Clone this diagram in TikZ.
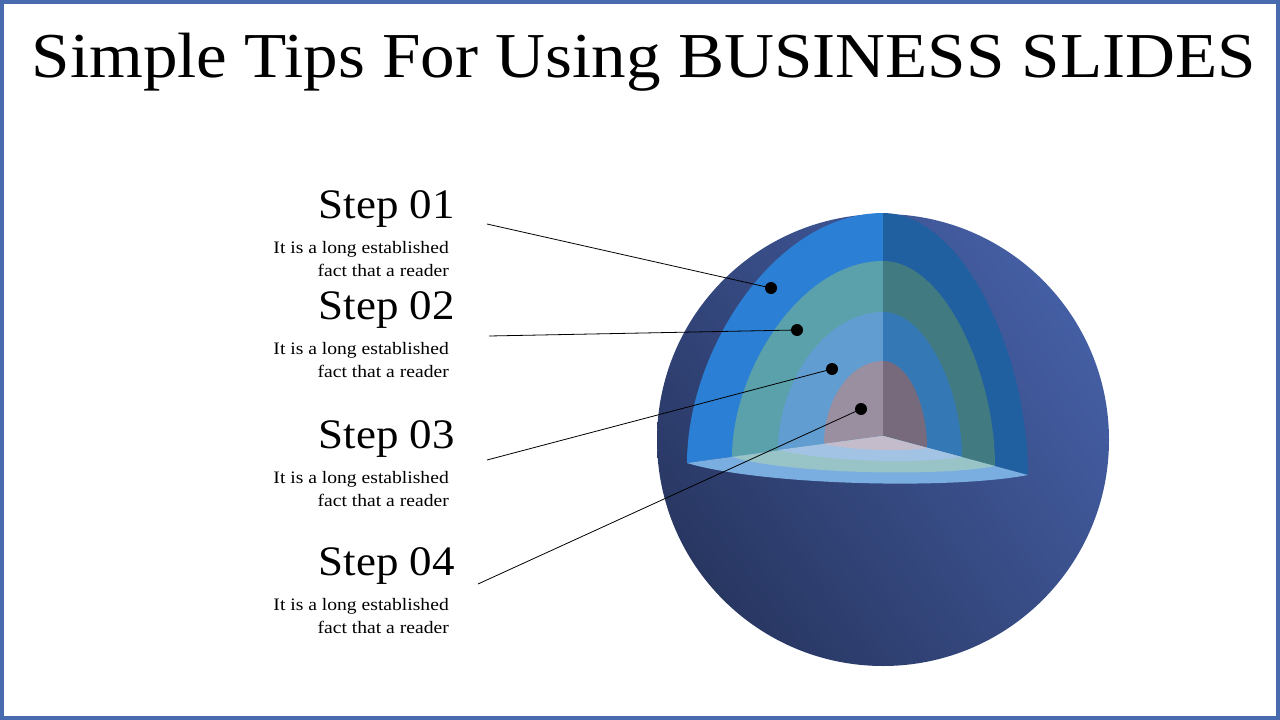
\documentclass[tikz,border=0pt]{standalone}
\usepackage{fontspec}
\setmainfont{Liberation Serif}
\usetikzlibrary{shadings}
\begin{document}
\begin{tikzpicture}[x=1pt,y=-1pt,
  steptxt/.style={anchor=east,font=\fontsize{42}{46}\selectfont,inner sep=0,xscale=1.07},
  subtxt/.style={anchor=east,align=right,font=\fontsize{17.5}{23}\selectfont,inner sep=0,xscale=1.12},
  dot/.style={circle,fill=black,inner sep=0,minimum size=12pt},
  lead/.style={draw=black,line width=0.8pt}]
\useasboundingbox (0,0) rectangle (1280,720);
\draw[color={rgb,255:red,74;green,106;blue,175},line width=4pt] (2,2) rectangle (1278,718);
\node[font=\fontsize{64}{70}\selectfont,inner sep=0,xscale=1.08] (title) at (644,62) {Simple Tips For Using BUSINESS SLIDES};
% sphere
\definecolor{sphlight}{RGB}{74,102,176}
\definecolor{sphdark}{RGB}{34,46,84}
\shade[upper right=sphlight,upper left=sphdark!55!sphlight,lower left=sphdark,lower right=sphdark!40!sphlight] (883,440) circle (226);
% left faces
\fill[color={rgb,255:red,43;green,127;blue,212}] (883,436) -- (883,213) .. controls (775,213) and (687,351) .. (687,463) -- cycle;
\fill[color={rgb,255:red,91;green,161;blue,171}] (883,436) -- (883,261) .. controls (800,261) and (732,372) .. (732,457) -- cycle;
\fill[color={rgb,255:red,97;green,157;blue,208}] (883,436) -- (883,312) .. controls (826,312) and (778,381) .. (778,450) -- cycle;
\fill[color={rgb,255:red,154;green,143;blue,160}] (883,436) -- (883,361) .. controls (851,361) and (824,399) .. (824,444) -- cycle;
% right faces
\fill[color={rgb,255:red,32;green,96;blue,160}] (883,436) -- (883,213) .. controls (963,213) and (1028,355) .. (1028,475) -- cycle;
\fill[color={rgb,255:red,66;green,122;blue,130}] (883,436) -- (883,261) .. controls (945,261) and (995,375) .. (995,466) -- cycle;
\fill[color={rgb,255:red,52;green,120;blue,182}] (883,436) -- (883,312) .. controls (927,312) and (962,392) .. (962,457) -- cycle;
\fill[color={rgb,255:red,119;green,106;blue,124}] (883,436) -- (883,361) .. controls (907,361) and (927,403) .. (927,448) -- cycle;
% bottom face
\fill[color={rgb,255:red,122;green,174;blue,224}] (883,436) -- (687,463) .. controls (760,485) and (950,490) .. (1028,475) -- cycle;
\fill[color={rgb,255:red,152;green,196;blue,200}] (883,436) -- (732,457) .. controls (790,474) and (940,477) .. (995,466) -- cycle;
\fill[color={rgb,255:red,162;green,195;blue,227}] (883,436) -- (778,450) .. controls (830,462) and (920,464) .. (962,457) -- cycle;
\fill[color={rgb,255:red,196;green,188;blue,203}] (883,436) -- (824,444) .. controls (850,450) and (900,452) .. (927,448) -- cycle;
% labels
\node[steptxt] (s1) at (455,209) {Step 01};
\node[subtxt] (d1) at (449,259) {It is a long established\\fact that a reader};
\node[steptxt] (s2) at (455,310) {Step 02};
\node[subtxt] (d2) at (449,360) {It is a long established\\fact that a reader};
\node[steptxt] (s3) at (455,439) {Step 03};
\node[subtxt] (d3) at (449,489) {It is a long established\\fact that a reader};
\node[steptxt] (s4) at (455,566) {Step 04};
\node[subtxt] (d4) at (449,616) {It is a long established\\fact that a reader};
% dots and leaders
\node[dot] (p1) at (771,288) {};
\node[dot] (p2) at (797,330) {};
\node[dot] (p3) at (832,369) {};
\node[dot] (p4) at (861,409) {};
\coordinate (e1) at (487,224);
\coordinate (e2) at (489,336);
\coordinate (e3) at (487,460);
\coordinate (e4) at (478,584);
\draw[lead] (e1) -- (p1.center);
\draw[lead] (e2) -- (p2.center);
\draw[lead] (e3) -- (p3.center);
\draw[lead] (e4) -- (p4.center);
\end{tikzpicture}
\end{document}
